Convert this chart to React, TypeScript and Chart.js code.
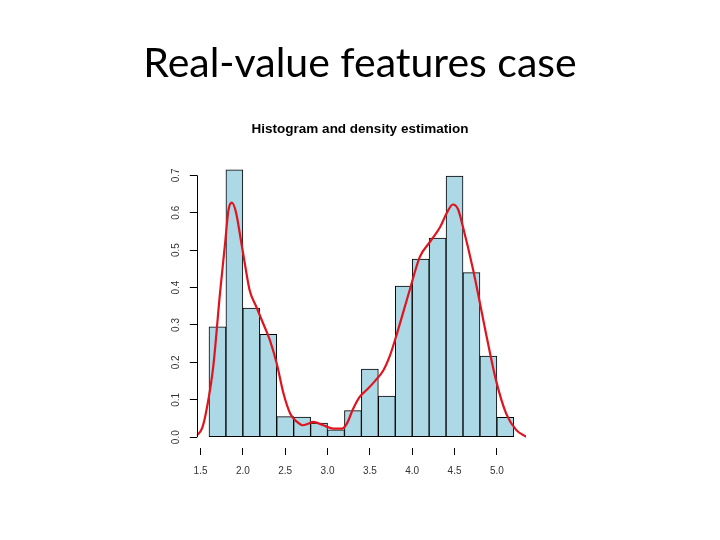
import React, { useEffect, useRef } from "react";
import { Chart, registerables } from "chart.js";

Chart.register(...registerables);

const slideTitle = "Real-value features case";
const chartTitle = "Histogram and density estimation";

// histogram bins (centres, width 0.2) and densities
const binCenters = [1.7, 1.9, 2.1, 2.3, 2.5, 2.7, 2.9, 3.1, 3.3, 3.5, 3.7, 3.9, 4.1, 4.3, 4.5, 4.7, 4.9, 5.1];
const binDensity = [0.295, 0.715, 0.345, 0.275, 0.055, 0.054, 0.038, 0.02, 0.071, 0.182, 0.11, 0.404, 0.476, 0.532, 0.698, 0.44, 0.217, 0.053];

// kernel density estimate curve
const densityX = [1.45, 1.52, 1.57, 1.65, 1.73, 1.79, 1.83, 1.87, 1.92, 1.97, 2.03, 2.08, 2.16, 2.24, 2.32, 2.4, 2.48, 2.56, 2.64, 2.71, 2.77, 2.83, 2.95, 3.07, 3.17, 3.23, 3.3, 3.38, 3.46, 3.56, 3.66, 3.74, 3.82, 3.97, 4.09, 4.21, 4.33, 4.41, 4.48, 4.54, 4.6, 4.72, 4.88, 4.99, 5.11, 5.23, 5.35];
const densityY = [0.003, 0.025, 0.072, 0.188, 0.385, 0.518, 0.607, 0.627, 0.6, 0.536, 0.455, 0.393, 0.348, 0.304, 0.259, 0.197, 0.117, 0.063, 0.041, 0.032, 0.036, 0.041, 0.032, 0.023, 0.023, 0.037, 0.075, 0.108, 0.126, 0.15, 0.179, 0.22, 0.277, 0.393, 0.482, 0.522, 0.562, 0.6, 0.622, 0.61, 0.562, 0.447, 0.268, 0.152, 0.063, 0.019, 0.001];

const xTicks = [1.5, 2.0, 2.5, 3.0, 3.5, 4.0, 4.5, 5.0];
const yTicks = [0, 0.1, 0.2, 0.3, 0.4, 0.5, 0.6, 0.7];

const X_MIN = 1.456;
const X_MAX = 5.344;
const Y_MIN = -0.0288;
const Y_MAX = 0.749;

export default function App() {
  const ref = useRef<HTMLCanvasElement | null>(null);

  useEffect(() => {
    if (!ref.current) return;
    const yAxisLine = {
      id: "yAxisLine",
      afterDatasetsDraw(chart: any) {
        const { ctx, chartArea, scales } = chart;
        const y = scales.y;
        ctx.save();
        ctx.strokeStyle = "#000";
        ctx.lineWidth = 1;
        ctx.beginPath();
        const x0 = Math.round(chartArea.left) + 0.5;
        ctx.moveTo(x0, y.getPixelForValue(yTicks[0]));
        ctx.lineTo(x0, y.getPixelForValue(yTicks[yTicks.length - 1]));
        ctx.stroke();
        ctx.restore();
      },
    };

    const chart = new Chart(ref.current, {
      type: "bar",
      data: {
        datasets: [
          {
            type: "line",
            label: "density",
            data: densityX.map((x, i) => ({ x, y: densityY[i] })),
            borderColor: "#e0141e",
            borderWidth: 2.2,
            pointRadius: 0,
            tension: 0.4,
            cubicInterpolationMode: "monotone",
            fill: false,
            order: 0,
          } as any,
          {
            type: "bar",
            label: "histogram",
            data: binCenters.map((x, i) => ({ x, y: binDensity[i] })),
            backgroundColor: "#add8e6",
            borderColor: "#000",
            borderWidth: 1,
            borderSkipped: false,
            barPercentage: 1,
            categoryPercentage: 1,
            grouped: false,
            order: 1,
          } as any,
        ],
      },
      options: {
        responsive: false,
        animation: false,
        events: [],
        layout: { padding: 0 },
        plugins: {
          legend: { display: false },
          tooltip: { enabled: false },
          title: {
            display: true,
            text: slideTitle,
            color: "#000",
            font: { family: "Lato", size: 41, weight: "normal", lineHeight: 1 },
            padding: { top: 43, bottom: 0 },
          },
          subtitle: {
            display: true,
            text: chartTitle,
            color: "#000",
            font: { family: "Liberation Sans", size: 13.5, weight: "bold", lineHeight: 1 },
            padding: { top: 39, bottom: 20.5 },
          },
        },
        scales: {
          x: {
            type: "linear",
            min: X_MIN,
            max: X_MAX,
            offset: false,
            afterBuildTicks: (scale: any) => {
              scale.ticks = xTicks.map((v) => ({ value: v }));
            },
            afterFit: (scale: any) => {
              scale.height = 92;
            },
            border: { display: false },
            grid: {
              offset: false,
              drawOnChartArea: false,
              drawTicks: true,
              tickLength: 7,
              color: "#000",
              lineWidth: 1,
            },
            ticks: {
              color: "#333",
              padding: 10,
              maxRotation: 0,
              autoSkip: false,
              font: { family: "Liberation Sans", size: 10 },
              callback: (v: any) => Number(v).toFixed(1),
            },
          },
          y: {
            type: "linear",
            min: Y_MIN,
            max: Y_MAX,
            afterBuildTicks: (scale: any) => {
              scale.ticks = yTicks.map((v) => ({ value: v }));
            },
            afterFit: (scale: any) => {
              scale.width = 196.8;
            },
            border: { display: false },
            grid: {
              drawOnChartArea: false,
              drawTicks: true,
              tickLength: 7,
              color: "#000",
              lineWidth: 1,
            },
            ticks: {
              color: "#333",
              padding: 7,
              minRotation: 90,
              maxRotation: 90,
              crossAlign: "center",
              autoSkip: false,
              font: { family: "Liberation Sans", size: 10 },
              callback: (v: any) => Number(v).toFixed(1),
            },
          },
          yRight: {
            type: "linear",
            position: "right",
            min: Y_MIN,
            max: Y_MAX,
            afterFit: (scale: any) => {
              scale.width = 194;
            },
            border: { display: false },
            grid: { display: false },
            ticks: { display: false },
          },
        },
      },
      plugins: [yAxisLine],
    });
    return () => chart.destroy();
  }, []);

  return (
    <div style={{ position: "absolute", left: 0, top: 0, width: 720, height: 540, background: "#fff" }}>
      <canvas ref={ref} width={720} height={540} style={{ display: "block" }} />
    </div>
  );
}
